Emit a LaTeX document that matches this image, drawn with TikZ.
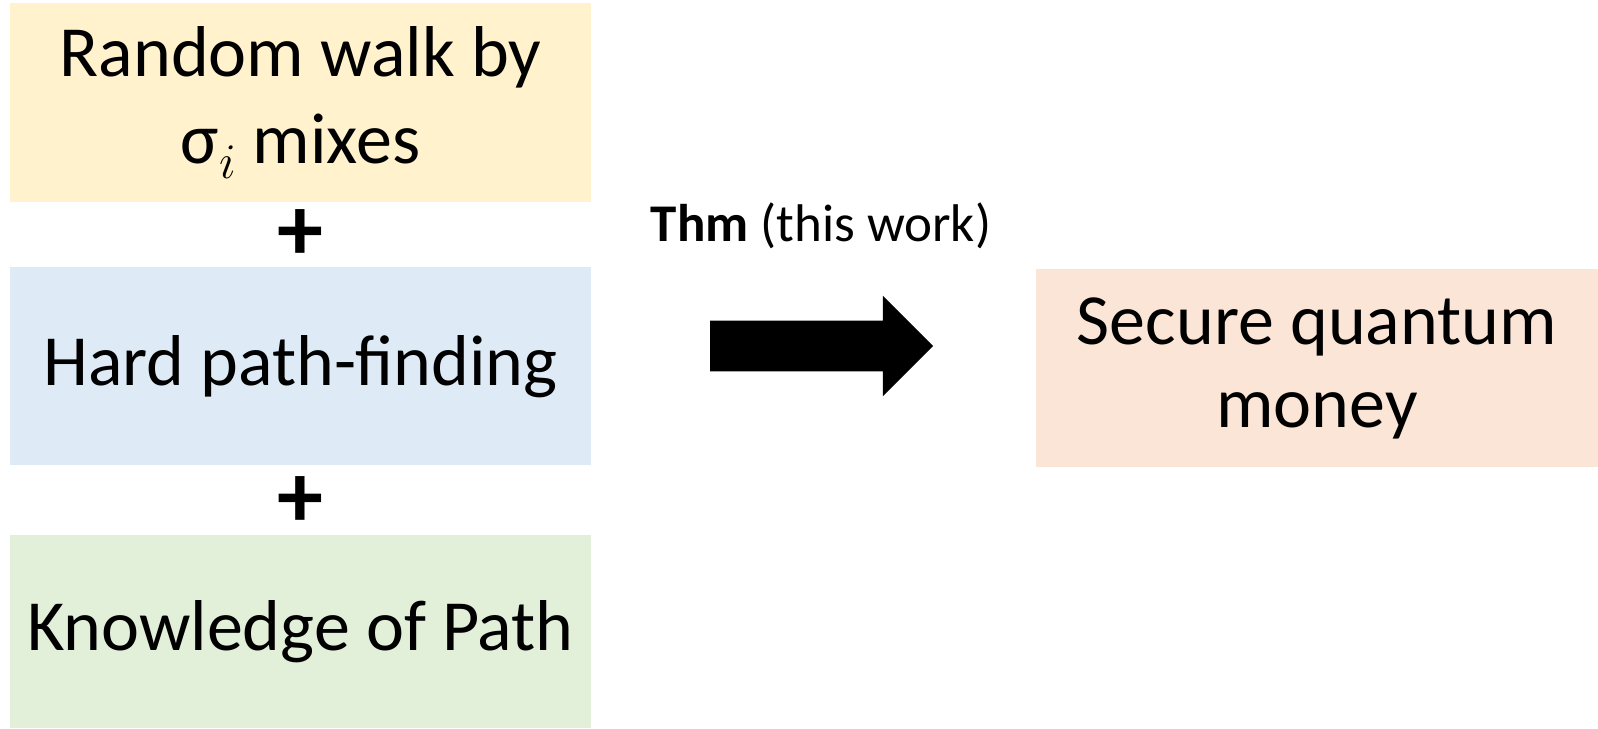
\documentclass[tikz,border=0pt]{standalone}
\usepackage{fontspec}
\setmainfont{Carlito}
\usetikzlibrary{shapes.arrows}
\definecolor{walkyellow}{HTML}{FFF2CC}
\definecolor{hardblue}{HTML}{DEEBF7}
\definecolor{knowgreen}{HTML}{E2F0D9}
\definecolor{moneyred}{HTML}{FBE5D6}
\tikzstyle{block} = [rectangle, minimum width=290.5pt, minimum height=99pt, inner sep=0pt, text centered, align=center, font=\fontsize{36}{43.5}\selectfont]
\tikzstyle{plus} = [font=\fontsize{46}{46}\selectfont\bfseries]
\tikzstyle{bigarrow} = [single arrow, fill=black, minimum height=111.5pt, text height=12.5pt, text depth=12.5pt, single arrow head extend=12.5pt, inner sep=0pt]

\begin{document}
\begin{tikzpicture}[x=0.5pt, y=0.5pt, node distance=132pt]

        \useasboundingbox (0,0) rectangle (1598,728);

        \node (walk) [block, fill=walkyellow, minimum height=99.5pt] at (300.5,625.5) {Random walk by\\σ$_i$ mixes};
        \node (hard) [block, fill=hardblue, below of=walk] {Hard path-finding};
        \node (know) [block, fill=knowgreen, minimum height=96.5pt] at (300.5,96.5) {Knowledge of Path};
        \node (money) [block, fill=moneyred, minimum width=281pt, align=center, font=\fontsize{36}{41.5}\selectfont] at (1317,360) {Secure quantum\\money};

        % signos +
        \node (plus1) [plus] at (300.5,493) {+};
        \node (plus2) [plus] at (300.5,226) {+};

        % flecha
        \node (implies) [bigarrow] at (809,382) {};
        \node (thm) [anchor=base, font=\fontsize{26.5}{30}\selectfont] at (821,486) {\textbf{Thm} (this work)};

    \end{tikzpicture}
\end{document}
